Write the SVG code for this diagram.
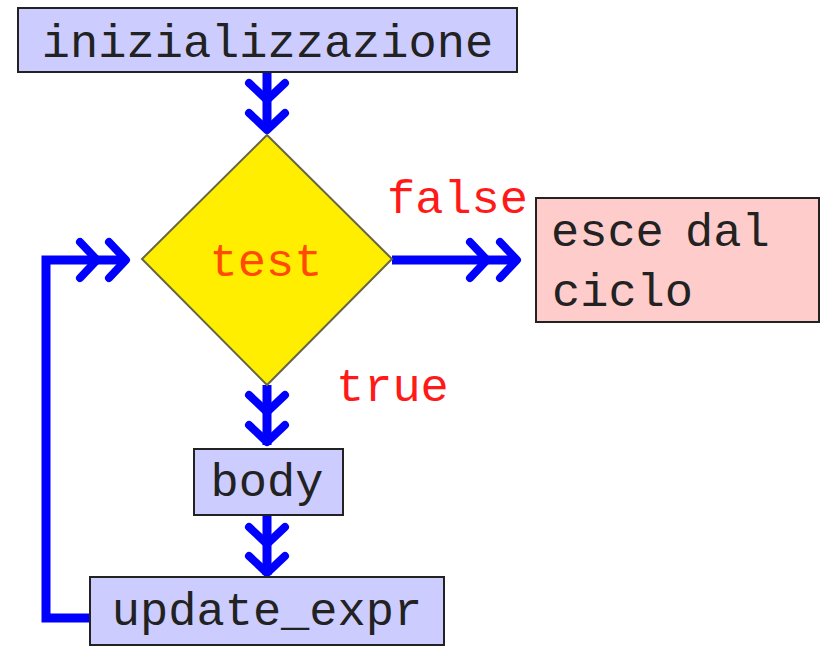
<svg xmlns="http://www.w3.org/2000/svg" xmlns:xlink="http://www.w3.org/1999/xlink" width="823" height="649" viewBox="0 0 823 649">
  <style>
    .box { fill: #ccccff; stroke: #222; stroke-width: 2; }
    .exit { fill: #ffcccc; stroke: #222; stroke-width: 2; }
    .decision { fill: #ffee00; stroke: #666644; stroke-width: 2; }
    .label { font-family: "Liberation Mono", "Courier New", monospace; font-size: 47px; fill: #222; }
    .cond { font-family: "Liberation Mono", "Courier New", monospace; font-size: 47px; fill: #ff1a1a; }
    .flow { fill: none; stroke: #0000ff; stroke-width: 9; stroke-linejoin: miter; }
    .head { fill: none; stroke: #0000ff; stroke-width: 8; stroke-linecap: round; stroke-linejoin: round; }
  </style>
  <defs>
    <!-- chevron pointing down, tip at origin -->
    <path id="chev" class="head" d="M-18,-17 L0,0 L18,-17"/>
  </defs>

  <rect width="823" height="649" fill="#ffffff"/>

  <g id="connectors">
    <!-- init -> test -->
    <line class="flow" x1="267" y1="72" x2="267" y2="131"/>
    <use href="#chev" transform="translate(267,100)"/>
    <use href="#chev" transform="translate(267,130)"/>

    <!-- test -> exit (false) -->
    <line class="flow" x1="392" y1="260" x2="518" y2="260"/>
    <use href="#chev" transform="translate(487,260) rotate(-90)"/>
    <use href="#chev" transform="translate(517,260) rotate(-90)"/>

    <!-- test -> body (true) -->
    <line class="flow" x1="267" y1="385" x2="267" y2="445"/>
    <use href="#chev" transform="translate(267,412)"/>
    <use href="#chev" transform="translate(267,442)"/>

    <!-- body -> update -->
    <line class="flow" x1="267" y1="515" x2="267" y2="575"/>
    <use href="#chev" transform="translate(267,544)"/>
    <use href="#chev" transform="translate(267,573)"/>

    <!-- update -> test (loop back) -->
    <polyline class="flow" points="90,618 46,618 46,260 126,260"/>
    <use href="#chev" transform="translate(97,260) rotate(-90)"/>
    <use href="#chev" transform="translate(126,260) rotate(-90)"/>
  </g>

  <g id="init">
    <rect class="box" x="18" y="8" width="499" height="64"/>
    <text class="label" x="267.5" y="57" text-anchor="middle">inizializzazione</text>
  </g>

  <g id="test">
    <polygon class="decision" points="267,135 392,259 267,385 142,259"/>
    <text class="cond" x="266" y="276" text-anchor="middle" style="fill:#ff4a00">test</text>
  </g>

  <g id="exit">
    <rect class="exit" x="536" y="198" width="283" height="124"/>
    <text class="label" x="551" y="246" word-spacing="-7">esce dal</text>
    <text class="label" x="552" y="306">ciclo</text>
  </g>

  <g id="body">
    <rect class="box" x="194" y="449" width="149" height="66"/>
    <text class="label" x="267" y="496" text-anchor="middle">body</text>
  </g>

  <g id="update">
    <rect class="box" x="90" y="577" width="354" height="68"/>
    <text class="label" x="267" y="625" text-anchor="middle">update_expr</text>
  </g>

  <g id="branch-labels">
    <text class="cond" x="387" y="213">false</text>
    <text class="cond" x="336" y="401">true</text>
  </g>
</svg>
